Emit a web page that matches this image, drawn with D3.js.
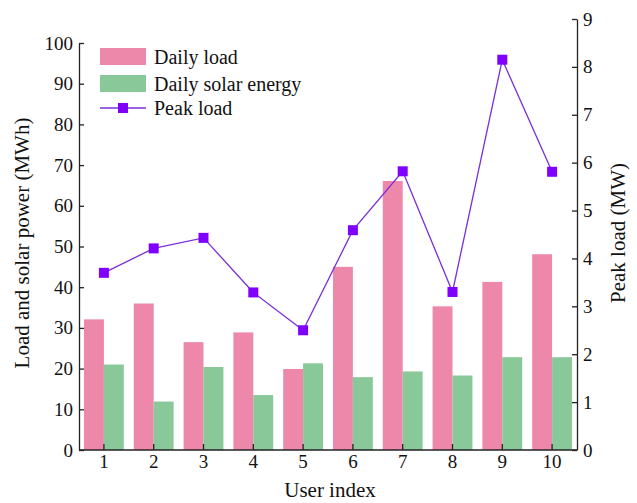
<!DOCTYPE html>
<html>
<head>
<meta charset="utf-8">
<script src="https://cdn.jsdelivr.net/npm/d3@7"></script>
<style>
  html, body { margin: 0; padding: 0; background: #fff; }
  svg { display: block; }
</style>
</head>
<body>
<div id="chart"></div>
<script>
// datos
const users = ["1", "2", "3", "4", "5", "6", "7", "8", "9", "10"];
const dailyLoad = [32.1, 36.0, 26.5, 28.9, 19.9, 45.0, 66.1, 35.3, 41.3, 48.1];
const dailySolar = [21.0, 11.9, 20.4, 13.5, 21.3, 17.9, 19.3, 18.3, 22.8, 22.8];
const peakLoad = [3.70, 4.21, 4.43, 3.29, 2.50, 4.59, 5.82, 3.30, 8.15, 5.81];
const leftTicks = [0, 10, 20, 30, 40, 50, 60, 70, 80, 90, 100];
const rightTicks = [0, 1, 2, 3, 4, 5, 6, 7, 8, 9];

const width = 637, height = 503;
const fuente = "'Liberation Serif', 'Times New Roman', serif";
const colorLoad = "#ee88ab";
const colorSolar = "#88c899";
const colorLine = "#7a2fd8";
const colorMarker = "#8000ff";

const svg = d3.select("#chart").append("svg")
  .attr("width", width).attr("height", height)
  .style("font-family", fuente);

const x0 = 79, x1 = 577, yBase = 450;

const x = d3.scaleBand().domain(users).range([x0, x1])
  .paddingInner(0.2).paddingOuter(0.1);
const xs = d3.scaleBand().domain(["load", "solar"]).range([0, x.bandwidth()]);

const yL = d3.scaleLinear().domain([0, 100]).range([yBase, 43]);
const yR = d3.scaleLinear().domain([0, 9]).range([yBase, 19]);

// barras
const g = svg.append("g");
users.forEach((u, i) => {
  g.append("rect")
    .attr("x", x(u) + xs("load"))
    .attr("y", yL(dailyLoad[i]))
    .attr("width", xs.bandwidth())
    .attr("height", yBase - yL(dailyLoad[i]))
    .attr("fill", colorLoad);
  g.append("rect")
    .attr("x", x(u) + xs("solar"))
    .attr("y", yL(dailySolar[i]))
    .attr("width", xs.bandwidth())
    .attr("height", yBase - yL(dailySolar[i]))
    .attr("fill", colorSolar);
});

// linea de carga pico
const cx = u => x(u) + x.bandwidth() / 2;
const line = d3.line().x((d, i) => cx(users[i])).y(d => yR(d));
svg.append("path").datum(peakLoad)
  .attr("d", line).attr("fill", "none")
  .attr("stroke", colorLine).attr("stroke-width", 1.3);
svg.selectAll("rect.mk").data(peakLoad).join("rect")
  .attr("class", "mk")
  .attr("x", (d, i) => cx(users[i]) - 5)
  .attr("y", d => yR(d) - 5)
  .attr("width", 10).attr("height", 10)
  .attr("fill", colorMarker);

// ejes (marcas hacia dentro)
const axisStyle = sel => {
  sel.selectAll(".domain, .tick line").attr("stroke", "#222").attr("stroke-width", 1.3);
  sel.selectAll("text").attr("font-family", fuente).attr("font-size", 19).attr("fill", "#111");
};

svg.append("g").attr("transform", `translate(${x0},0)`)
  .call(d3.axisLeft(yL).tickValues(leftTicks).tickSizeInner(-5).tickSizeOuter(0).tickPadding(6))
  .call(axisStyle);

svg.append("g").attr("transform", `translate(${x1},0)`)
  .call(d3.axisRight(yR).tickValues(rightTicks).tickSizeInner(-5).tickSizeOuter(0).tickPadding(6))
  .call(axisStyle);

const xAxis = svg.append("g").attr("transform", `translate(0,${yBase})`)
  .call(d3.axisBottom(x).tickSizeOuter(0).tickSizeInner(-6).tickPadding(5))
  .call(axisStyle);
xAxis.select(".domain").attr("d", `M${x0},0H${x1}`);

// titulos de ejes
svg.append("text")
  .attr("transform", `translate(29,243) rotate(-90)`)
  .attr("text-anchor", "middle")
  .attr("font-size", 21).attr("fill", "#111")
  .text("Load and solar power (MWh)");

svg.append("text")
  .attr("transform", `translate(625,233) rotate(-90)`)
  .attr("text-anchor", "middle")
  .attr("font-size", 21).attr("fill", "#111")
  .text("Peak load (MW)");

svg.append("text")
  .attr("x", 330).attr("y", 497)
  .attr("text-anchor", "middle")
  .attr("font-size", 21).attr("fill", "#111")
  .text("User index");

// leyenda
const legend = svg.append("g");
legend.append("rect").attr("x", 100).attr("y", 48).attr("width", 46).attr("height", 17).attr("fill", colorLoad);
legend.append("rect").attr("x", 100).attr("y", 75).attr("width", 46).attr("height", 17).attr("fill", colorSolar);
legend.append("line").attr("x1", 100).attr("x2", 146).attr("y1", 108).attr("y2", 108)
  .attr("stroke", colorLine).attr("stroke-width", 1.3);
legend.append("rect").attr("x", 118).attr("y", 103).attr("width", 10).attr("height", 10).attr("fill", colorMarker);

const legendTexts = ["Daily load", "Daily solar energy", "Peak load"];
const legendY = [56.5, 83.5, 108];
legendTexts.forEach((t, i) => {
  legend.append("text")
    .attr("x", 154).attr("y", legendY[i])
    .attr("dy", "0.35em")
    .attr("font-size", 20).attr("fill", "#111")
    .text(t);
});
</script>
</body>
</html>
